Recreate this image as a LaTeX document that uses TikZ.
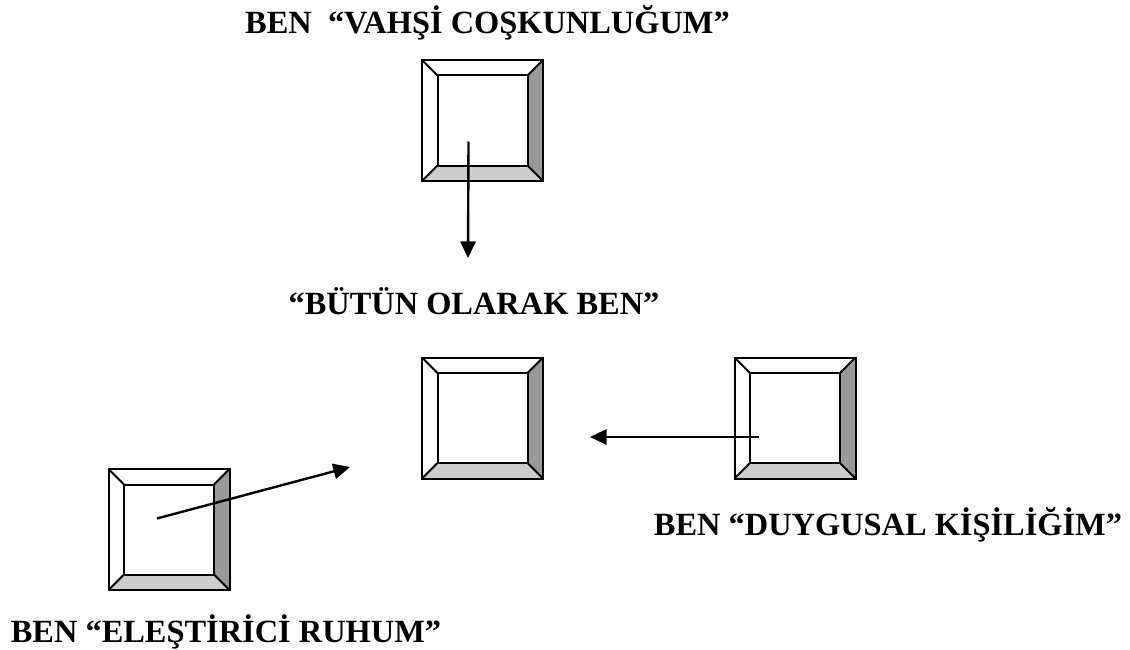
\documentclass[tikz,border=0pt]{standalone}
\usepackage{fontspec}
\setmainfont{Liberation Serif}
\usetikzlibrary{arrows.meta}
\definecolor{bevdark}{HTML}{999999}
\definecolor{bevlight}{HTML}{CCCCCC}
\tikzset{
  lbl/.style={font=\bfseries\fontsize{24.3}{28}\selectfont, inner sep=0pt, anchor=base},
  edge/.style={line width=1.5pt, line join=miter},
  conn/.style={line width=1.8pt, -{Triangle[length=12.5pt,width=11.5pt]}},
  outerbox/.style={rectangle, minimum size=90.75pt, inner sep=0pt, outer sep=0pt},
  innerbox/.style={rectangle, minimum size=67.5pt, inner sep=0pt, outer sep=0pt},
}
\newcommand\bevelbox[2]{%
  \node[outerbox] (#1) at (#2) {};
  \node[innerbox] (#1i) at (#2) {};
  \fill[bevdark] (#1.north east) -- (#1.south east) -- (#1i.south east) -- (#1i.north east) -- cycle;
  \fill[bevlight] (#1.south west) -- (#1.south east) -- (#1i.south east) -- (#1i.south west) -- cycle;
  \draw[edge] (#1.north west) rectangle (#1.south east);
  \draw[edge] (#1i.north west) rectangle (#1i.south east);
  \draw[edge] (#1.north west) -- (#1i.north west);
  \draw[edge] (#1.north east) -- (#1i.north east);
  \draw[edge] (#1.south west) -- (#1i.south west);
  \draw[edge] (#1.south east) -- (#1i.south east);
}
\begin{document}
\begin{tikzpicture}[x=0.75pt,y=-0.75pt]
\useasboundingbox (0,0) rectangle (1130,649);
\bevelbox{top}{482.5,120.5}
\bevelbox{mid}{482.5,418}
\bevelbox{right}{795,418}
\bevelbox{left}{169,529.5}
\node[lbl] (t1) at (487.5,33.5) {BEN \ “VAHŞİ COŞKUNLUĞUM”};
\node[lbl] (t2) at (474,314) {“BÜTÜN OLARAK BEN”};
\node[lbl] (t3) at (888,535) {BEN “DUYGUSAL KİŞİLİĞİM”};
\node[lbl] (t4) at (226,642) {BEN “ELEŞTİRİCİ RUHUM”};
\coordinate (a1s) at ([xshift=-10.5pt,yshift=-15.75pt]top.center);
\coordinate (a1e) at (468,258);
\coordinate (a2s) at ([xshift=-27pt,yshift=-14.25pt]right.center);
\coordinate (a2e) at (590,437);
\coordinate (a3s) at ([xshift=-9pt,yshift=8.25pt]left.center);
\coordinate (a3e) at (350,467);
\draw[conn] (a1s) -- (a1e);
\draw[conn] (a2s) -- (a2e);
\draw[conn] (a3s) -- (a3e);
\end{tikzpicture}
\end{document}
